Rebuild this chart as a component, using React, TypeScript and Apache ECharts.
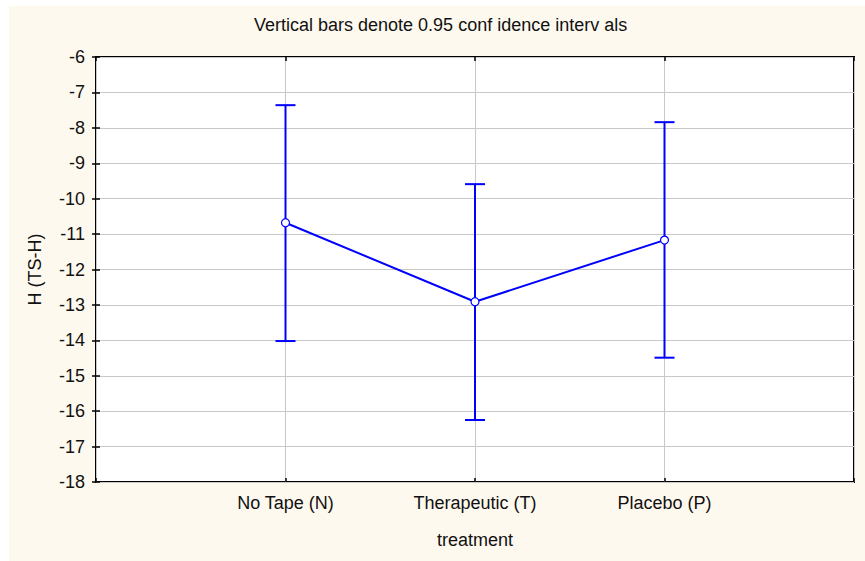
import React, { useEffect, useRef } from "react";
import * as echarts from "echarts";

const categories = ["No Tape (N)", "Therapeutic (T)", "Placebo (P)"];
const means = [-10.68, -12.91, -11.17];
const lower = [-14.02, -16.25, -14.49];
const upper = [-7.36, -9.59, -7.84];
const yMin = -18;
const yMax = -6;
const titleText = "Vertical bars denote 0.95 conf idence interv als";
const xName = "treatment";
const yName = "H (TS-H)";

const FONT = "'Liberation Sans', Arial, sans-serif";
const BLUE = "#0000ff";

export default function App() {
  const ref = useRef<HTMLDivElement>(null);
  useEffect(() => {
    if (!ref.current) return;
    const chart = echarts.init(ref.current, null, { renderer: "svg" });
    const catLabel = (v: number) => {
      const i = Math.round(v) - 1;
      return i >= 0 && i < categories.length ? categories[i] : "";
    };
    const meanData = means.map((m, i) => [i + 1, m]);
    const errData = means.map((_, i) => [i + 1, lower[i], upper[i]]);
    const baseX = {
      type: "value" as const,
      min: 0,
      max: categories.length + 1,
      interval: 1,
      axisLine: { show: false },
      axisTick: { show: true, inside: true, length: 4, lineStyle: { color: "#000", width: 1.5 } },
    };
    const baseY = {
      type: "value" as const,
      min: yMin,
      max: yMax,
      interval: 1,
      axisLine: { show: false },
      axisTick: { show: true, inside: true, length: 4, lineStyle: { color: "#000", width: 1.5 } },
    };
    chart.setOption({
      animation: false,
      backgroundColor: "#ffffff",
      textStyle: { fontFamily: FONT },
      graphic: [
        {
          type: "rect",
          z: -10,
          silent: true,
          shape: { x: 9, y: 6, width: 856, height: 555 },
          style: { fill: "#fef9ef" },
        },
      ],
      title: {
        text: titleText,
        left: 254,
        top: 16,
        padding: 0,
        textStyle: { fontFamily: FONT, fontSize: 18, fontWeight: "normal", color: "#111" },
      },
      grid: {
        left: 96,
        top: 57,
        right: 11,
        bottom: 79,
        show: true,
        backgroundColor: "#ffffff",
        borderColor: "#000",
        borderWidth: 2,
        z: 0,
      },
      xAxis: [
        {
          ...baseX,
          position: "bottom",
          name: xName,
          nameLocation: "middle",
          nameGap: 49,
          nameTextStyle: { fontFamily: FONT, fontSize: 18, color: "#111" },
          axisLabel: {
            formatter: catLabel,
            margin: 12,
            fontFamily: FONT,
            fontSize: 18,
            color: "#111",
          },
          splitLine: { show: true, lineStyle: { color: "#c8c8c8", width: 1 } },
        },
        {
          ...baseX,
          position: "top",
          axisLabel: { show: false },
          splitLine: { show: false },
        },
      ],
      yAxis: [
        {
          ...baseY,
          position: "left",
          name: yName,
          nameLocation: "middle",
          nameGap: 52,
          nameTextStyle: { fontFamily: FONT, fontSize: 18, color: "#111" },
          axisLabel: { margin: 11, fontFamily: FONT, fontSize: 18, color: "#111" },
          splitLine: { show: true, lineStyle: { color: "#c8c8c8", width: 1 } },
        },
        {
          ...baseY,
          position: "right",
          axisLabel: { show: false },
          splitLine: { show: false },
        },
      ],
      series: [
        {
          type: "custom",
          xAxisIndex: 0,
          yAxisIndex: 0,
          data: errData,
          z: 3,
          renderItem: (params: any, api: any) => {
            const x = api.value(0);
            const lo = api.coord([x, api.value(1)]);
            const hi = api.coord([x, api.value(2)]);
            const hw = 10;
            const style = { stroke: BLUE, lineWidth: 2 };
            return {
              type: "group",
              children: [
                { type: "line", shape: { x1: lo[0], y1: lo[1], x2: hi[0], y2: hi[1] }, style },
                { type: "line", shape: { x1: lo[0] - hw, y1: lo[1], x2: lo[0] + hw, y2: lo[1] }, style },
                { type: "line", shape: { x1: hi[0] - hw, y1: hi[1], x2: hi[0] + hw, y2: hi[1] }, style },
              ],
            };
          },
        },
        {
          type: "line",
          xAxisIndex: 0,
          yAxisIndex: 0,
          data: meanData,
          z: 4,
          symbol: "circle",
          symbolSize: 8,
          lineStyle: { color: BLUE, width: 2 },
          itemStyle: { color: "#ffffff", borderColor: BLUE, borderWidth: 1.2 },
        },
      ],
    });
    return () => chart.dispose();
  }, []);
  return (
    <div
      ref={ref}
      style={{ position: "absolute", left: 0, top: 0, width: 865, height: 561 }}
    />
  );
}
